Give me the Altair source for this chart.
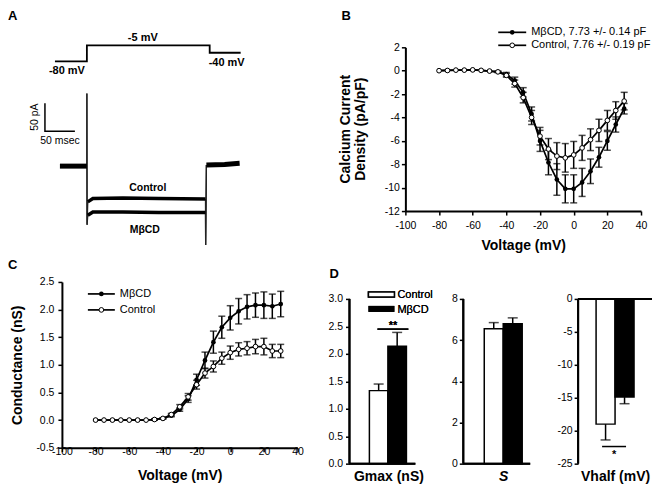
import altair as alt
import pandas as pd

FONT = "Liberation Sans"
MINUS = "replace(datum.label, '\u2212', '-')"

# ---------------- Panel A (protocol + current traces) ----------------
prot_t = [-53.3, 0, 0, 205, 205, 256.7]
prot_v = [-80, -80, -5, -5, -40, -40]
prot_lab_t = [-33.3, 93.3, 233.3]
prot_lab_v = [-127, 28, -89]
prot_labels = ["-80 mV", "-5 mV", "-40 mV"]

# noisy current bands (holding, test pulse, tail)
hold_t = [-45, 0]
hold_i = [0, 0]
step_t = [1.5, 10, 60, 120, 198]
ctrl_step_i = [-64, -58, -57, -58, -59]
mbcd_step_i = [-88, -82, -82, -83, -83]
tail_t = [199.5, 230, 255]
tail_i = [2, 3, 5]
# capacitive transients
on_spike_t = [0, 0, 0.3, 1.5]
ctrl_on_spike_i = [0, 130, -105, -64]
mbcd_on_spike_i = [0, 130, -105, -88]
off_spike_t = [198, 198.3, 199.5]
ctrl_off_spike_i = [-59, -141, 2]
mbcd_off_spike_i = [-83, -141, 2]

trace_lab_t = [101.7, 96.7]
trace_lab_i = [-39, -114]
trace_labels = ["Control", "M\u03b2CD"]

bar_t = [-70, -70, -20]
bar_i = [112.5, 62.5, 62.5]

# ---------------- Panel B (I-V) ----------------
volts = [-80, -75, -70, -65, -60, -55, -50, -45, -40, -35, -30, -25,
         -20, -15, -10, -5, 0, 5, 10, 15, 20, 25, 30]
ctrl_B = [0.0, 0.02, 0.05, 0.05, 0.07, 0.03, -0.03, -0.1, -0.4, -1.1, -2.3, -4.0,
          -5.6, -6.7, -7.3, -7.45, -7.2, -6.6, -5.9, -5.1, -4.25, -3.4, -2.6]
ctrl_B_err = [0, 0, 0, 0, 0, 0, 0, 0.05, 0.15, 0.3, 0.45, 0.6,
              0.75, 0.9, 1.15, 1.22, 1.15, 1.07, 0.93, 0.95, 0.85, 0.75, 0.75]
mbcd_B = [0.0, 0.02, 0.05, 0.05, 0.07, 0.03, -0.03, -0.1, -0.3, -0.85, -1.85, -3.7,
          -6.0, -7.85, -9.3, -10.1, -10.1, -9.55, -8.6, -7.4, -6.0, -4.6, -3.25]
mbcd_B_err = [0, 0, 0, 0, 0, 0, 0, 0.05, 0.15, 0.3, 0.4, 0.6,
              0.9, 1.05, 1.35, 1.2, 1.2, 1.2, 1.05, 0.85, 0.8, 0.65, 0.45]

# ---------------- Panel C (conductance) ----------------
ctrl_C = [0, 0, 0, 0, 0, 0, 0, 0.01, 0.03, 0.1, 0.24, 0.42,
          0.64, 0.85, 0.97, 1.12, 1.22, 1.28, 1.3, 1.33, 1.33, 1.25, 1.25]
ctrl_C_err = [0, 0, 0, 0, 0, 0, 0, 0.01, 0.01, 0.02, 0.04, 0.06,
              0.08, 0.09, 0.1, 0.11, 0.12, 0.12, 0.12, 0.13, 0.15, 0.12, 0.12]
mbcd_C = [0, 0, 0, 0, 0, 0, 0, 0.01, 0.03, 0.08, 0.19, 0.38,
          0.73, 1.08, 1.41, 1.68, 1.85, 1.97, 2.05, 2.08, 2.08, 2.06, 2.1]
mbcd_C_err = [0, 0, 0, 0, 0, 0, 0, 0.01, 0.01, 0.02, 0.03, 0.06,
              0.1, 0.15, 0.2, 0.2, 0.22, 0.23, 0.22, 0.22, 0.24, 0.22, 0.23]

# ---------------- Panel D (bars) ----------------
groups = ["Control", "M\u03b2CD"]
gmax = [1.33, 2.14]
gmax_err = [0.12, 0.25]
slope = [6.55, 6.8]
slope_err = [0.3, 0.28]
vhalf = [-19.0, -14.9]
vhalf_err = [2.4, 1.0]


def axis(**kw):
    base = dict(domainColor="black", domainWidth=2, tickColor="black", tickWidth=1.5,
                tickSize=4, labelFont=FONT, labelFontSize=10.5, labelColor="black",
                titleFont=FONT, titleFontSize=14, titleFontWeight="bold",
                titleColor="black", grid=False, labelFlush=False, labelOverlap=False,
                labelBound=False, labelExpr=MINUS)
    base.update(kw)
    return alt.Axis(**base)


def letter(ch, x, y):
    d = pd.DataFrame({"l": [ch]})
    return alt.Chart(d).mark_text(align="left", baseline="top", font=FONT, fontSize=13,
                                  fontWeight="bold", color="black").encode(
        x=alt.value(x), y=alt.value(y), text="l:N")


# ---------------- Panel A chart ----------------
xA = alt.X("t:Q", scale=alt.Scale(domain=[-41.67, 265], nice=False, zero=False), axis=None)


def yI(f):
    return alt.Y(f, scale=alt.Scale(domain=[-80.36, 212.5], nice=False, zero=False), axis=None)


yV = alt.Y("v:Q", scale=alt.Scale(domain=[-783.1, -14.375], nice=False, zero=False), axis=None)

prot_df = pd.DataFrame({"t": prot_t, "v": prot_v, "k": list(range(len(prot_t)))})
prot_lab_df = pd.DataFrame({"t": prot_lab_t, "v": prot_lab_v, "l": prot_labels})

band_rows, spike_rows = [], []


def add(rows, seg, ts, vals, w=None):
    for k, (tt, ii) in enumerate(zip(ts, vals)):
        r = {"t": tt, "i": ii, "seg": seg, "k": k}
        if w is not None:
            r["w"] = w
        rows.append(r)


add(band_rows, "hold", hold_t, hold_i, 5)
add(band_rows, "ctrl", step_t, ctrl_step_i, 3.5)
add(band_rows, "mbcd", step_t, mbcd_step_i, 3.5)
add(band_rows, "tail", tail_t, tail_i, 5)
add(spike_rows, "c_on", on_spike_t, ctrl_on_spike_i)
add(spike_rows, "m_on", on_spike_t, mbcd_on_spike_i)
add(spike_rows, "c_off", off_spike_t, ctrl_off_spike_i)
add(spike_rows, "m_off", off_spike_t, mbcd_off_spike_i)
band_df = pd.DataFrame(band_rows)
spike_df = pd.DataFrame(spike_rows)

tr_lab_df = pd.DataFrame({"t": trace_lab_t, "i": trace_lab_i, "l": trace_labels})
bar_df = pd.DataFrame({"t": bar_t, "i": bar_i, "k": [0, 1, 2]})
pa_df = pd.DataFrame({"t": [-86.7], "i": [87.5], "l": ["50 pA"]})
ms_df = pd.DataFrame({"t": [-45], "i": [44.6], "l": ["50 msec"]})

A_layers = [
    alt.Chart(prot_df).mark_line(color="black", strokeWidth=1.8).encode(x=xA, y=yV, order="k:Q"),
    alt.Chart(prot_lab_df).mark_text(font=FONT, fontSize=11, fontWeight="bold", color="black").encode(
        x=xA, y=yV, text="l:N"),
    alt.Chart(spike_df).mark_line(color="#222222", strokeWidth=1.3).encode(
        x=xA, y=yI("i:Q"), detail="seg:N", order="k:Q"),
    alt.Chart(band_df).mark_line(color="black").encode(
        x=xA, y=yI("i:Q"), detail="seg:N", order="k:Q",
        strokeWidth=alt.StrokeWidth("w:Q", scale=None, legend=None)),
    alt.Chart(tr_lab_df).mark_text(font=FONT, fontSize=10.5, fontWeight="bold", color="black").encode(
        x=xA, y=yI("i:Q"), text="l:N"),
    alt.Chart(bar_df).mark_line(color="black", strokeWidth=1.5).encode(x=xA, y=yI("i:Q"), order="k:Q"),
    alt.Chart(pa_df).mark_text(font=FONT, fontSize=10.5, color="black", angle=270).encode(
        x=xA, y=yI("i:Q"), text="l:N"),
    alt.Chart(ms_df).mark_text(font=FONT, fontSize=10.5, color="black").encode(
        x=xA, y=yI("i:Q"), text="l:N"),
    letter("A", -54, -37),
]
chartA = alt.layer(*A_layers).resolve_scale(y="independent").properties(width=184, height=164)


# ---------------- I-V style panels ----------------
def iv_df(m, e):
    return pd.DataFrame({"V": volts, "m": m, "lo": [a - b for a, b in zip(m, e)],
                         "hi": [a + b for a, b in zip(m, e)], "e": e})


def iv_layers(df, xenc, yenc, filled):
    err = alt.Chart(df).transform_filter("datum.e > 0")
    layers = [
        alt.Chart(df).mark_line(color="black", strokeWidth=1.7).encode(x=xenc, y=yenc("m:Q")),
        err.mark_rule(color="black", strokeWidth=1.5).encode(x=xenc, y=yenc("lo:Q"), y2="hi:Q"),
        err.mark_tick(color="black", orient="horizontal", size=7, thickness=1.5).encode(x=xenc, y=yenc("hi:Q")),
        err.mark_tick(color="black", orient="horizontal", size=7, thickness=1.5).encode(x=xenc, y=yenc("lo:Q")),
    ]
    if filled:
        pts = alt.Chart(df).mark_point(shape="circle", filled=True, size=22, color="black", opacity=1)
    else:
        pts = alt.Chart(df).mark_point(shape="circle", filled=True, size=22, fill="white",
                                       stroke="black", strokeWidth=1, opacity=1)
    layers.append(pts.encode(x=xenc, y=yenc("m:Q")))
    return layers


def legend_row(x1, x2, y, tx, label, filled):
    d = pd.DataFrame({"l": [label]})
    base = alt.Chart(d)
    rule = base.mark_rule(color="black", strokeWidth=1.7).encode(
        x=alt.value(x1), x2=alt.value(x2), y=alt.value(y))
    if filled:
        pt = base.mark_point(shape="circle", filled=True, size=22, color="black", opacity=1)
    else:
        pt = base.mark_point(shape="circle", filled=True, size=22, fill="white", stroke="black",
                             strokeWidth=1, opacity=1)
    pt = pt.encode(x=alt.value((x1 + x2) / 2), y=alt.value(y))
    txt = base.mark_text(align="left", baseline="middle", font=FONT, fontSize=11, color="black").encode(
        x=alt.value(tx), y=alt.value(y), text="l:N")
    return [rule, pt, txt]


def side_title(text, x, y):
    d = pd.DataFrame({"l": [text]})
    return alt.Chart(d).mark_text(align="center", baseline="middle", angle=270, font=FONT,
                                  fontSize=14, fontWeight="bold", color="black").encode(
        x=alt.value(x), y=alt.value(y), text="l:N")


# Panel B
xB = alt.X("V:Q", scale=alt.Scale(domain=[-100, 40], nice=False, zero=False),
           axis=axis(values=[-100, -80, -60, -40, -20, 0, 20, 40], format="d",
                     title="Voltage (mV)", labelPadding=5, titlePadding=8))
axB = axis(values=[-12, -10, -8, -6, -4, -2, 0, 2], format="d", title=None, labelPadding=2)


def yB(f):
    return alt.Y(f, scale=alt.Scale(domain=[-12, 2], nice=False, zero=False), axis=axB)


B_layers = (iv_layers(iv_df(mbcd_B, mbcd_B_err), xB, yB, True)
            + iv_layers(iv_df(ctrl_B, ctrl_B_err), xB, yB, False)
            + legend_row(93, 121, -15, 126, "M\u03b2CD, 7.73 +/- 0.14 pF", True)
            + legend_row(93, 121, -2, 126, "Control, 7.76 +/- 0.19 pF", False)
            + [side_title("Calcium Current", -59, 82), side_title("Density (pA/pF)", -44, 82),
               letter("B", -64, -37)])
chartB = alt.layer(*B_layers).properties(width=236, height=164)

# Panel C
xC = alt.X("V:Q", scale=alt.Scale(domain=[-100, 40], nice=False, zero=False),
           axis=axis(values=[-100, -80, -60, -40, -20, 0, 20, 40], format="d",
                     title="Voltage (mV)", labelPadding=-5, titlePadding=11))
axC = axis(values=[-0.5, 0, 0.5, 1.0, 1.5, 2.0, 2.5], format=".1f",
           title="Conductance (nS)", labelPadding=4, minExtent=24, maxExtent=24, titlePadding=13)


def yC(f):
    return alt.Y(f, scale=alt.Scale(domain=[-0.5, 2.5], nice=False, zero=False), axis=axC)


C_layers = (iv_layers(iv_df(mbcd_C, mbcd_C_err), xC, yC, True)
            + iv_layers(iv_df(ctrl_C, ctrl_C_err), xC, yC, False)
            + legend_row(26, 53, 12, 58, "M\u03b2CD", True)
            + legend_row(26, 53, 28, 58, "Control", False)
            + [letter("C", -54, -23)])
chartC = alt.layer(*C_layers).properties(width=236, height=166)


# ---------------- Panel D ----------------
D_HEIGHT = 182  # plot area starts 17 px above the top tick so that C and D share a top edge


def d_panel(vals, errs, ydom, yvals, yfmt, title, italic, width, pad, align, title_x,
            label_pad=2, extra=None):
    sign = [1 if v >= 0 else -1 for v in vals]
    df = pd.DataFrame({"g": groups, "m": vals,
                       "e": [v + s * e for v, s, e in zip(vals, sign, errs)]})
    xax = alt.Axis(domain=False, ticks=False, labels=False, title=title, titleFont=FONT,
                   titleFontSize=14, titleFontWeight="bold", titleColor="black",
                   titleFontStyle="italic" if italic else "normal",
                   titleX=title_x, titleY=6, titleAlign="center", titleBaseline="top")
    xenc = alt.X("g:N", sort=groups,
                 scale=alt.Scale(domain=groups, paddingInner=0, paddingOuter=pad, align=align),
                 axis=xax)
    yax = axis(values=yvals, format=yfmt, title=None, labelPadding=label_pad, domain=False)
    ysc = alt.Scale(domain=ydom, nice=False, zero=False)

    def yenc(f):
        return alt.Y(f, scale=ysc, axis=yax)

    def ydat(v):
        return alt.YDatum(v, scale=ysc, axis=yax, type="quantitative")

    lo, hi = min(yvals), max(yvals)
    layers = [
        alt.Chart(df).mark_rule(color="black", strokeWidth=1.5).encode(x=xenc, y=yenc("m:Q"), y2="e:Q"),
        alt.Chart(df).mark_tick(color="black", orient="horizontal", size=10, thickness=1.5).encode(
            x=xenc, y=yenc("e:Q")),
        alt.Chart(df).mark_bar(stroke="black", strokeWidth=1.5).encode(
            x=xenc, y=yenc("m:Q"),
            fill=alt.Fill("g:N", scale=alt.Scale(domain=groups, range=["white", "black"]), legend=None)),
        alt.Chart(df).mark_rule(color="black", strokeWidth=2).encode(y=ydat(0)),
        alt.Chart(df).mark_rule(color="black", strokeWidth=2).encode(
            x=alt.value(0), y=ydat(lo), y2=alt.Y2Datum(hi)),
    ]
    if extra:
        layers += extra(ydat)
    return alt.layer(*layers).properties(width=width, height=D_HEIGHT)


def gmax_extra(ydat):
    d = pd.DataFrame({"l": ["Control", "M\u03b2CD"]})
    b = alt.Chart(d)
    return [
        b.mark_rect(fill="white", stroke="black", strokeWidth=1.5).encode(
            x=alt.value(19), x2=alt.value(45), y=alt.value(10), y2=alt.value(15)),
        b.mark_rect(fill="black").encode(x=alt.value(19), x2=alt.value(45), y=alt.value(24), y2=alt.value(30)),
        b.mark_text(text="Control", align="left", baseline="middle", font=FONT, fontSize=11,
                    color="black").encode(x=alt.value(48), y=alt.value(13)),
        b.mark_text(text="M\u03b2CD", align="left", baseline="middle", font=FONT, fontSize=11,
                    color="black").encode(x=alt.value(48), y=alt.value(28)),
        b.mark_rule(color="black", strokeWidth=1.5).encode(
            x=alt.value(28), x2=alt.value(59), y=ydat(2.45)),
        b.mark_text(text="**", align="center", baseline="bottom", font=FONT, fontSize=11,
                    fontWeight="bold", color="black").encode(x=alt.value(43.5), y=ydat(2.42)),
        letter("D", -20, -14),
    ]


def vhalf_extra(ydat):
    d = pd.DataFrame({"l": ["*"]})
    b = alt.Chart(d)
    return [
        b.mark_rule(color="black", strokeWidth=1.5).encode(
            x=alt.value(24), x2=alt.value(48), y=ydat(-22.4)),
        b.mark_text(text="*", align="center", baseline="top", font=FONT, fontSize=11,
                    fontWeight="bold", color="black").encode(x=alt.value(36), y=ydat(-22.8)),
    ]


D1 = d_panel(gmax, gmax_err, [0, 3 * D_HEIGHT / 165], [0, 0.5, 1.0, 1.5, 2.0, 2.5, 3.0], ".1f",
             "Gmax (nS)", False, 66, 0.78, 0.69, 39, label_pad=3, extra=gmax_extra)
D2 = d_panel(slope, slope_err, [0, 8 * D_HEIGHT / 165], [0, 2, 4, 6, 8], "d", "S",
             True, 67, 0.763, 0.724, 40, label_pad=2)
D3 = d_panel(vhalf, vhalf_err, [-25, 25 * (D_HEIGHT - 165) / 165], [-25, -20, -15, -10, -5, 0], "d",
             "Vhalf (mV)", False, 74, 0.947, 0.5, 37, label_pad=2, extra=vhalf_extra)

Dgroup = alt.hconcat(D1, D2, D3, spacing=48, bounds="flush")

row1 = alt.hconcat(chartA, chartB, spacing=89)
row2 = alt.hconcat(chartC, Dgroup, spacing=24)
chart = alt.vconcat(row1, row2, spacing=6).properties(
    padding={"top": 2, "left": 0, "right": 0, "bottom": 0}).configure_view(stroke=None)

chart.save("out.html", embed_options={"renderer": "svg", "actions": False})
